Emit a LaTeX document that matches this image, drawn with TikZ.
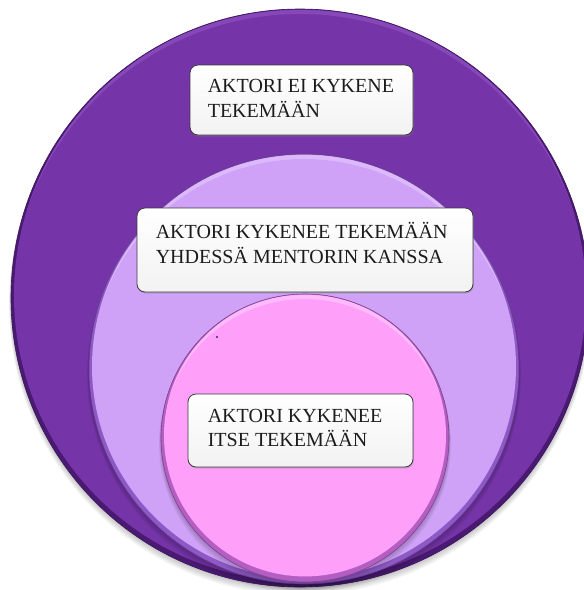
\documentclass[tikz,border=0pt]{standalone}
\usepackage{fontspec}
\setmainfont{Liberation Serif}
\usetikzlibrary{calc,shadows}

\definecolor{outerfill}{HTML}{7535A8}
\definecolor{outerrim}{HTML}{4A1A72}
\definecolor{outerhi}{HTML}{9558C8}
\definecolor{midfill}{HTML}{CFA2F8}
\definecolor{midrim}{HTML}{8E58C6}
\definecolor{midhi}{HTML}{E6CCFF}
\definecolor{innerfill}{HTML}{FEA0FA}
\definecolor{innerrim}{HTML}{B45EC4}
\definecolor{innerhi}{HTML}{FFD0FD}
\definecolor{boxline}{HTML}{3A3A3A}
\definecolor{txt}{HTML}{1C1C1C}

% one bevelled disc: centre, radius (pt), fill, rim, highlight
\newcommand{\bevdisc}[6]{%
  % soft cast shadow below the disc
  \foreach \k in {1,...,5}{
    \fill[black, opacity=0.045] ($(#1)+(0,1.2*\k)$) circle (#2pt+0.4pt*\k);
  }
  \fill[#4] (#1) circle (#2pt);
  \fill[#3] ($(#1)+(0,-2.6)$) circle (#2pt-3pt);
  \begin{scope}
    \clip ($(#1)+(0,-2.6)$) circle (#2pt-3pt);
    \draw[#5, opacity=0.55, line width=4pt] ($(#1)+(0,4)$) circle (#2pt+1pt);
  \end{scope}
  \draw[#6, line width=0.6pt] (#1) circle (#2pt);
}

\tikzset{
  box/.style={rectangle, rounded corners=8pt, draw=boxline, line width=0.8pt,
    top color=white, bottom color=black!5, inner sep=0pt,
    drop shadow={opacity=0.35, shadow xshift=0.8pt, shadow yshift=-1.6pt}},
  lbl/.style={anchor=north west, inner sep=0pt, align=left, text=txt,
    font=\fontsize{20}{24.5}\selectfont}
}

\begin{document}
\begin{tikzpicture}[x=1pt,y=-1pt]
\useasboundingbox (0,0) rectangle (584,590);
\fill[white] (0,0) rectangle (584,590);

% centres of the three nested discs
\coordinate (co) at (300,298);
\coordinate (cm) at (304,369);
\coordinate (ci) at (305,438);

\bevdisc{co}{289}{outerfill}{outerrim}{outerhi}{outerrim!80!black}
\bevdisc{cm}{215}{midfill}{midrim}{midhi}{midrim!70!black}
\bevdisc{ci}{144}{innerfill}{innerrim}{innerhi}{innerrim!70!black}

% small speck on the inner disc
\fill[outerrim] (217,337) circle (1.1pt);

% text boxes
\node[box, minimum width=223pt, minimum height=70pt] (b1) at (301.5,100) {};
\node[box, minimum width=336pt, minimum height=84pt] (b2) at (305,250) {};
\node[box, minimum width=225pt, minimum height=73pt] (b3) at (300.5,430.5) {};

\node[lbl] (t1) at ($(b1.north west)+(18,10.8)$) {\strut AKTORI EI KYKENE\\TEKEMÄÄN};
\node[lbl] (t2) at ($(b2.north west)+(19,13.8)$) {\strut AKTORI KYKENEE TEKEMÄÄN\\YHDESSÄ MENTORIN KANSSA};
\node[lbl] (t3) at ($(b3.north west)+(20,11.3)$) {\strut AKTORI KYKENEE\\ITSE TEKEMÄÄN};
\end{tikzpicture}
\end{document}
